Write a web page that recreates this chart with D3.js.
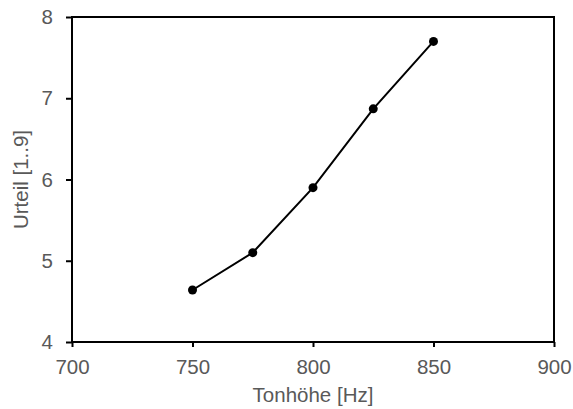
<!DOCTYPE html>
<html>
<head>
<meta charset="utf-8">
<script src="https://cdn.jsdelivr.net/npm/d3@7"></script>
<style>
  html, body { margin: 0; padding: 0; background: #fff; overflow: hidden; }
  svg { display: block; }
  text { font-family: "Liberation Sans", Arial, sans-serif; fill: #595959; }
</style>
</head>
<body>
<svg width="573" height="409"></svg>
<script>
"use strict";

const pitch = [750, 775, 800, 825, 850];
const rating = [4.64, 5.1, 5.9, 6.87, 7.7];
const xTicks = [700, 750, 800, 850, 900];
const yTicks = [4, 5, 6, 7, 8];
const xAxisLabel = "Tonhöhe [Hz]";
const yAxisLabel = "Urteil [1..9]";

const svg = d3.select("svg");
const width = +svg.attr("width");
const height = +svg.attr("height");
const margin = { top: 17, right: 19, bottom: 67, left: 72 };
const innerWidth = width - margin.left - margin.right;
const innerHeight = height - margin.top - margin.bottom;
const fontSize = "20.5px";

const data = pitch.map((p, i) => ({ x: p, y: rating[i] }));

const xScale = d3.scaleLinear().domain([700, 900]).range([0, innerWidth]);
const yScale = d3.scaleLinear().domain([4, 8]).range([innerHeight, 0]);

const g = svg.append("g")
  .attr("transform", `translate(${margin.left},${margin.top})`);

const xAxis = d3.axisBottom(xScale)
  .tickValues(xTicks)
  .tickSize(5)
  .tickPadding(12)
  .tickFormat(d3.format("d"));

const yAxis = d3.axisLeft(yScale)
  .tickValues(yTicks)
  .tickSize(6)
  .tickPadding(13)
  .tickFormat(d3.format("d"));

const xAxisG = g.append("g")
  .attr("transform", `translate(0,${innerHeight})`)
  .call(xAxis);
const yAxisG = g.append("g").call(yAxis);

[xAxisG, yAxisG].forEach(a => {
  a.select(".domain").remove();
  a.selectAll(".tick line").attr("stroke", "#000").attr("stroke-width", 2);
  a.selectAll(".tick text")
    .attr("fill", "#595959")
    .style("font-size", fontSize)
    .style("font-family", "Liberation Sans, Arial, sans-serif");
});

// frame
g.append("rect")
  .attr("width", innerWidth)
  .attr("height", innerHeight)
  .attr("fill", "none")
  .attr("stroke", "#000")
  .attr("stroke-width", 2);

const line = d3.line()
  .x(d => xScale(d.x))
  .y(d => yScale(d.y));

g.append("path")
  .datum(data)
  .attr("d", line)
  .attr("fill", "none")
  .attr("stroke", "#000")
  .attr("stroke-width", 2);

g.selectAll("circle")
  .data(data)
  .enter()
  .append("circle")
  .attr("cx", d => xScale(d.x))
  .attr("cy", d => yScale(d.y))
  .attr("r", 4.5)
  .attr("fill", "#000");

g.append("text")
  .attr("x", innerWidth / 2)
  .attr("y", innerHeight + 60)
  .attr("text-anchor", "middle")
  .style("font-size", fontSize)
  .text(xAxisLabel);

g.append("text")
  .attr("transform", "rotate(-90)")
  .attr("x", -innerHeight / 2)
  .attr("y", -44)
  .attr("text-anchor", "middle")
  .style("font-size", fontSize)
  .text(yAxisLabel);
</script>
</body>
</html>
